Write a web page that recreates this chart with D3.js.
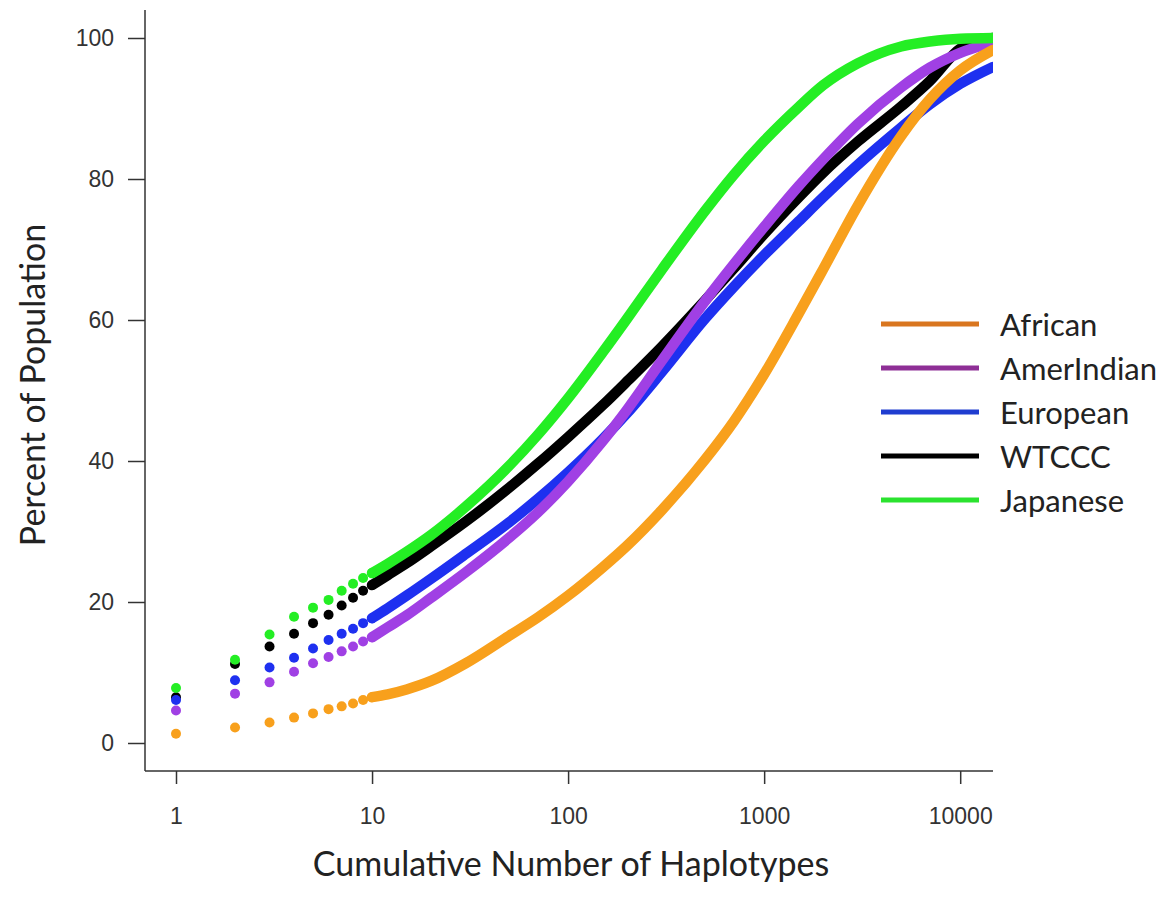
<!DOCTYPE html>
<html>
<head>
<meta charset="utf-8">
<script src="https://cdn.jsdelivr.net/npm/d3@7"></script>
<style>
  body { margin: 0; background: #fff; }
</style>
</head>
<body>
<script>
// cumulative number of haplotypes (x) and percent of population (y) per group
const haplotypes = [1, 2, 3, 4, 5, 6, 7, 8, 9, 10, 12, 15, 20, 30, 50, 70, 100, 150, 200, 300, 500, 700, 1000, 1500, 2000, 3000, 5000, 7000, 10000, 14700];

const african    = [1.3, 2.2, 2.9, 3.6, 4.2, 4.8, 5.2, 5.6, 6.1, 6.5, 6.9, 7.6, 8.8, 11.3, 15.2, 17.8, 20.9, 24.9, 28.0, 33.0, 40.2, 45.6, 52.3, 60.9, 67.2, 76.2, 86.1, 91.3, 95.4, 98.3];
const amerIndian = [4.6, 7.0, 8.6, 10.1, 11.3, 12.2, 13.0, 13.7, 14.4, 15.0, 16.4, 18.1, 20.6, 24.2, 29.1, 32.7, 37.1, 42.8, 47.3, 54.2, 62.7, 67.9, 73.2, 79.0, 82.8, 87.8, 93.0, 95.8, 97.9, 99.4];
const european   = [6.1, 8.9, 10.7, 12.1, 13.4, 14.6, 15.5, 16.2, 17.0, 17.7, 19.1, 20.9, 23.3, 26.8, 31.3, 34.6, 38.4, 43.1, 46.8, 52.6, 60.2, 64.7, 69.2, 74.0, 77.4, 82.0, 87.3, 90.6, 93.5, 95.9];
const wtccc      = [6.5, 11.2, 13.7, 15.5, 17.0, 18.2, 19.5, 20.6, 21.6, 22.4, 23.8, 25.5, 27.9, 31.4, 36.2, 39.6, 43.4, 47.9, 51.3, 56.2, 62.8, 67.3, 72.2, 77.4, 80.9, 85.3, 90.3, 93.9, 98.5, 100];
const japanese   = [7.8, 11.8, 15.4, 17.9, 19.2, 20.3, 21.6, 22.6, 23.4, 24.1, 25.4, 27.1, 29.5, 33.5, 39.3, 43.7, 48.9, 55.4, 60.2, 67.1, 75.5, 80.6, 85.4, 90.2, 93.3, 96.4, 98.8, 99.5, 99.9, 100];

const groupNames   = ["African", "AmerIndian", "European", "WTCCC", "Japanese"];
const xTicks = [1, 10, 100, 1000, 10000];
const yTicks = [0, 20, 40, 60, 80, 100];

const series = {
  "African": african, "AmerIndian": amerIndian, "European": european,
  "WTCCC": wtccc, "Japanese": japanese
};
const lineColor = {
  "African": "#f8a01c", "AmerIndian": "#a040e4", "European": "#1e30f0",
  "WTCCC": "#000000", "Japanese": "#24ee24"
};
const legendColor = {
  "African": "#d9761f", "AmerIndian": "#8e2f96", "European": "#1f3dd0",
  "WTCCC": "#000000", "Japanese": "#2be32f"
};
// painting order (later ones on top)
const drawOrder = ["WTCCC", "European", "AmerIndian", "Japanese", "African"];

const width = 1175, height = 910;
const axisX = 145, axisY = 771, axisTop = 10, axisRight = 993;

const x = d3.scaleLog().domain([1, 14700]).range([176, 993]);
const y = d3.scaleLinear().domain([0, 100]).range([743, 38]);

const svg = d3.select("body").append("svg")
    .attr("width", width)
    .attr("height", height);

svg.append("defs").append("clipPath").attr("id", "plot")
  .append("rect")
    .attr("x", axisX).attr("y", 0)
    .attr("width", axisRight - axisX).attr("height", axisY);

var line = d3.line()
    .x(function(d) { return x(d[0]); })
    .y(function(d) { return y(d[1]); })
    .curve(d3.curveMonotoneX);

var plot = svg.append("g").attr("clip-path", "url(#plot)");

drawOrder.forEach(function(name) {
  var pts = haplotypes.map(function(h, i) { return [h, series[name][i]]; });
  var g = plot.append("g");

  // the dense part of the curve looks like a thick line
  g.append("path")
      .datum(pts.filter(function(d) { return d[0] >= 10; }))
      .attr("fill", "none")
      .attr("stroke", lineColor[name])
      .attr("stroke-width", 10.5)
      .attr("stroke-linecap", "round")
      .attr("d", line);

  g.selectAll("circle")
      .data(pts.filter(function(d) { return d[0] <= 10; }))
      .enter().append("circle")
      .attr("cx", function(d) { return x(d[0]); })
      .attr("cy", function(d) { return y(d[1]); })
      .attr("r", 5)
      .attr("fill", lineColor[name]);
});

// axes
var yAxis = svg.append("g")
    .attr("transform", "translate(" + axisX + ",0)")
    .call(d3.axisLeft(y).tickValues(yTicks).tickSize(17).tickPadding(14).tickFormat(d3.format("d")));

var xAxis = svg.append("g")
    .attr("transform", "translate(0," + axisY + ")")
    .call(d3.axisBottom(x).tickValues(xTicks).tickSize(13).tickPadding(24).tickFormat(d3.format("d")));

[yAxis, xAxis].forEach(function(a) {
  a.select(".domain").remove();
  a.selectAll(".tick line").attr("stroke", "#333").attr("stroke-width", 1.5);
  a.selectAll(".tick text")
      .attr("fill", "#333")
      .style("font-family", "'Liberation Sans', Arial, sans-serif")
      .style("font-size", "23px");
});

svg.append("line")
    .attr("x1", axisX).attr("x2", axisX)
    .attr("y1", axisTop).attr("y2", axisY)
    .attr("stroke", "#333").attr("stroke-width", 1.5);
svg.append("line")
    .attr("x1", axisX).attr("x2", axisRight)
    .attr("y1", axisY).attr("y2", axisY)
    .attr("stroke", "#333").attr("stroke-width", 1.5);

// axis titles
svg.append("text")
    .attr("transform", "translate(31,385) rotate(-90)")
    .attr("text-anchor", "middle")
    .attr("dominant-baseline", "central")
    .style("font-family", "Lato, 'Open Sans', sans-serif")
    .style("font-size", "34px")
    .attr("fill", "#222")
    .text("Percent of Population");

svg.append("text")
    .attr("x", 571).attr("y", 862)
    .attr("text-anchor", "middle")
    .attr("dominant-baseline", "central")
    .style("font-family", "Lato, 'Open Sans', sans-serif")
    .style("font-size", "34px")
    .attr("fill", "#222")
    .text("Cumulative Number of Haplotypes");

// legend
var legend = svg.append("g").attr("transform", "translate(881,324)");
var item = legend.selectAll("g")
    .data(groupNames)
    .enter().append("g")
    .attr("transform", function(d, i) { return "translate(0," + i * 44 + ")"; });

item.append("line")
    .attr("x1", 0).attr("x2", 98)
    .attr("stroke", function(d) { return legendColor[d]; })
    .attr("stroke-width", 5);

item.append("text")
    .attr("x", 119)
    .attr("dominant-baseline", "central")
    .style("font-family", "Lato, 'Open Sans', sans-serif")
    .style("font-size", "31px")
    .attr("fill", "#222")
    .text(function(d) { return d; });
</script>
</body>
</html>
